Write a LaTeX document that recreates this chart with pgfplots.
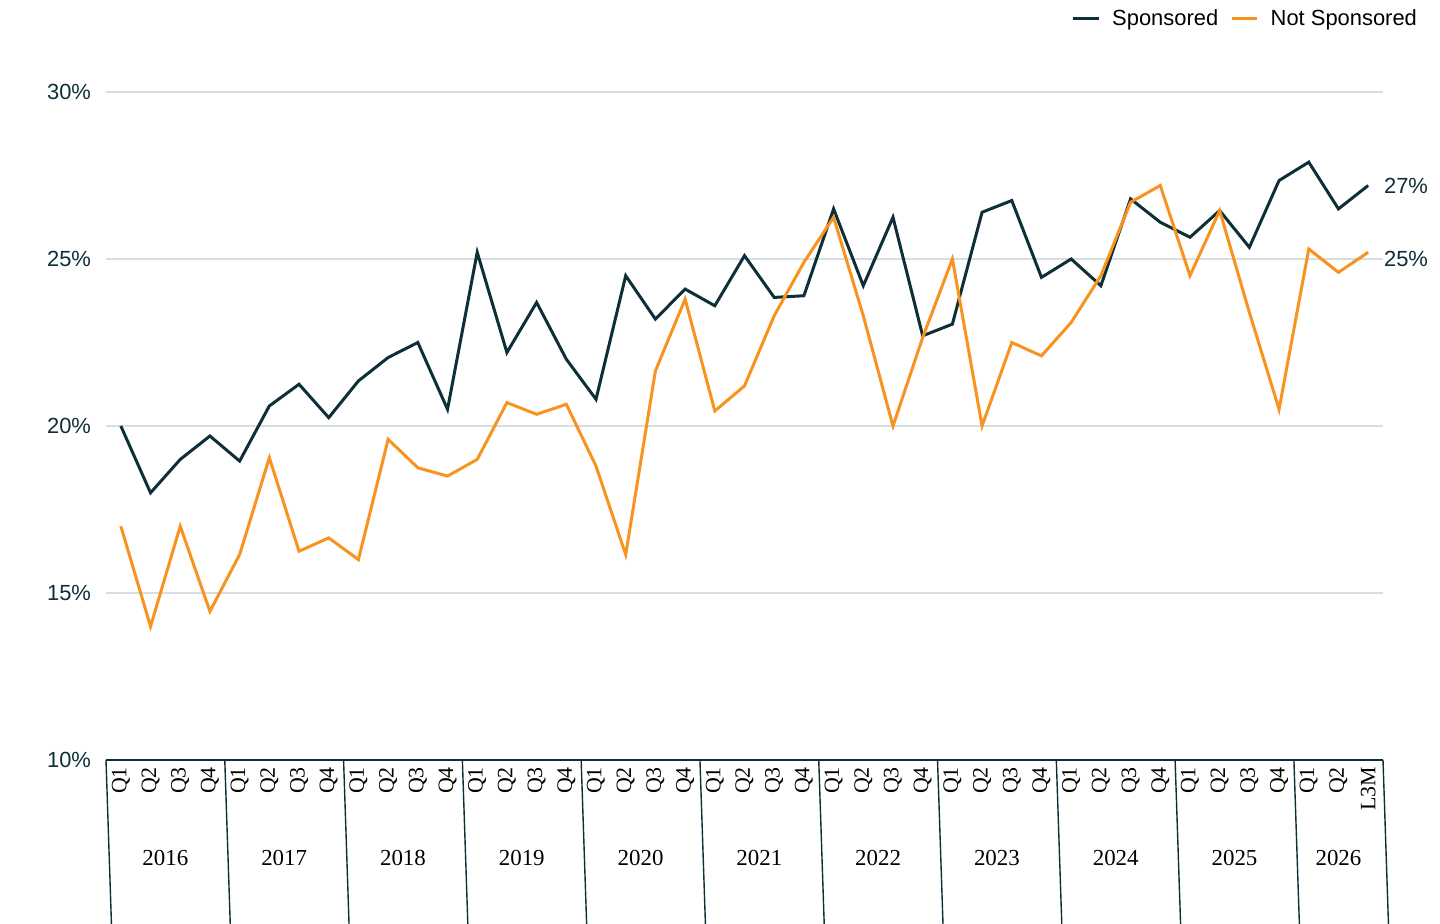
\documentclass[border=0pt]{standalone}
\usepackage{pgfplots}
\pgfplotsset{compat=1.18}
\usepackage{fontspec}
\setmainfont{Liberation Sans}
\newfontfamily\seriffont{Liberation Serif}
\definecolor{spon}{HTML}{0D2F38}
\definecolor{nspon}{HTML}{F7931E}
\definecolor{gridc}{HTML}{D5DEE0}
\pgfplotstableread{
x s n
0 20.0 17.0
1 18.0 14.0
2 19.0 17.0
3 19.7 14.45
4 18.95 16.15
5 20.6 19.05
6 21.25 16.25
7 20.25 16.65
8 21.35 16.0
9 22.05 19.6
10 22.5 18.75
11 20.5 18.5
12 25.2 19.0
13 22.2 20.7
14 23.7 20.35
15 22.0 20.65
16 20.8 18.8
17 24.5 16.15
18 23.2 21.65
19 24.1 23.8
20 23.6 20.45
21 25.1 21.2
22 23.85 23.3
23 23.9 24.9
24 26.5 26.25
25 24.2 23.3
26 26.25 20.0
27 22.7 22.65
28 23.05 25.0
29 26.4 20.0
30 26.75 22.5
31 24.45 22.1
32 25.0 23.1
33 24.2 24.5
34 26.8 26.7
35 26.1 27.2
36 25.65 24.5
37 26.45 26.45
38 25.35 23.4
39 27.35 20.5
40 27.9 25.3
41 26.5 24.6
42 27.2 25.2
}\data
\begin{document}
\begin{tikzpicture}
\useasboundingbox (-53bp,-82bp) rectangle (667bp,380bp);
\begin{axis}[
  at={(0,0)}, anchor=south west,
  scale only axis, width=638.5bp, height=334bp,
  xmin=-0.5, xmax=42.5, ymin=10, ymax=30,
  clip=false,
  axis line style={draw=none},
  ytick={10,15,20,25,30},
  yticklabel={\pgfmathprintnumber{\tick}\%},
  /pgf/number format/assume math mode=true,
  yticklabel style={font=\fontsize{11}{13}\selectfont, color=spon, xshift=-4bp},
  ymajorgrids, grid style={gridc, line width=0.6bp},
  major tick length=0pt,
  xtick={0,...,42},
  xticklabels={Q1,Q2,Q3,Q4,Q1,Q2,Q3,Q4,Q1,Q2,Q3,Q4,Q1,Q2,Q3,Q4,Q1,Q2,Q3,Q4,Q1,Q2,Q3,Q4,Q1,Q2,Q3,Q4,Q1,Q2,Q3,Q4,Q1,Q2,Q3,Q4,Q1,Q2,Q3,Q4,Q1,Q2,L3M},
  xticklabel style={font=\seriffont\fontsize{11}{13}\selectfont, rotate=90, anchor=east, color=black},
  legend style={draw=none, at={(1.03,1.13)}, anchor=north east, font=\fontsize{11}{13}\selectfont, column sep=4bp, inner sep=0pt},
  legend columns=2,
  legend image code/.code={\draw[#1, line width=1.5bp] (0,0) -- (0.45cm,0);},
  extra description/.code={
    \draw[spon, line width=0.7bp] (0,0) -- (1,0);
  },
]
\addplot[spon, line width=1.5bp] table[x=x,y=s]{\data};
\addlegendentry{Sponsored}
\addplot[nspon, line width=1.5bp] table[x=x,y=n]{\data};
\addlegendentry{Not Sponsored}
\pgfplotsinvokeforeach{-0.5,3.5,7.5,11.5,15.5,19.5,23.5,27.5,31.5,35.5,39.5,42.5}{
  \draw[spon, line width=0.7bp] (axis cs:#1,10) -- ++(0,-56bp);
}
\pgfplotsinvokeforeach{1.5/2016,5.5/2017,9.5/2018,13.5/2019,17.5/2020,21.5/2021,25.5/2022,29.5/2023,33.5/2024,37.5/2025}{}
\node[font=\seriffont\fontsize{11.5}{13}\selectfont, yshift=-49bp] at (axis cs:1.5,10) {2016};
\node[font=\seriffont\fontsize{11.5}{13}\selectfont, yshift=-49bp] at (axis cs:5.5,10) {2017};
\node[font=\seriffont\fontsize{11.5}{13}\selectfont, yshift=-49bp] at (axis cs:9.5,10) {2018};
\node[font=\seriffont\fontsize{11.5}{13}\selectfont, yshift=-49bp] at (axis cs:13.5,10) {2019};
\node[font=\seriffont\fontsize{11.5}{13}\selectfont, yshift=-49bp] at (axis cs:17.5,10) {2020};
\node[font=\seriffont\fontsize{11.5}{13}\selectfont, yshift=-49bp] at (axis cs:21.5,10) {2021};
\node[font=\seriffont\fontsize{11.5}{13}\selectfont, yshift=-49bp] at (axis cs:25.5,10) {2022};
\node[font=\seriffont\fontsize{11.5}{13}\selectfont, yshift=-49bp] at (axis cs:29.5,10) {2023};
\node[font=\seriffont\fontsize{11.5}{13}\selectfont, yshift=-49bp] at (axis cs:33.5,10) {2024};
\node[font=\seriffont\fontsize{11.5}{13}\selectfont, yshift=-49bp] at (axis cs:37.5,10) {2025};
\node[font=\seriffont\fontsize{11.5}{13}\selectfont, yshift=-49bp] at (axis cs:41,10) {2026};
\node[anchor=west, font=\fontsize{11}{13}\selectfont, color=spon] at (axis cs:42.3,27.2) {27\%};
\node[anchor=west, font=\fontsize{11}{13}\selectfont, color=spon] at (axis cs:42.3,25.0) {25\%};
\end{axis}
\draw[spon, line width=0.7bp] (0,0) -- (638.5bp,0);
\end{tikzpicture}
\end{document}
